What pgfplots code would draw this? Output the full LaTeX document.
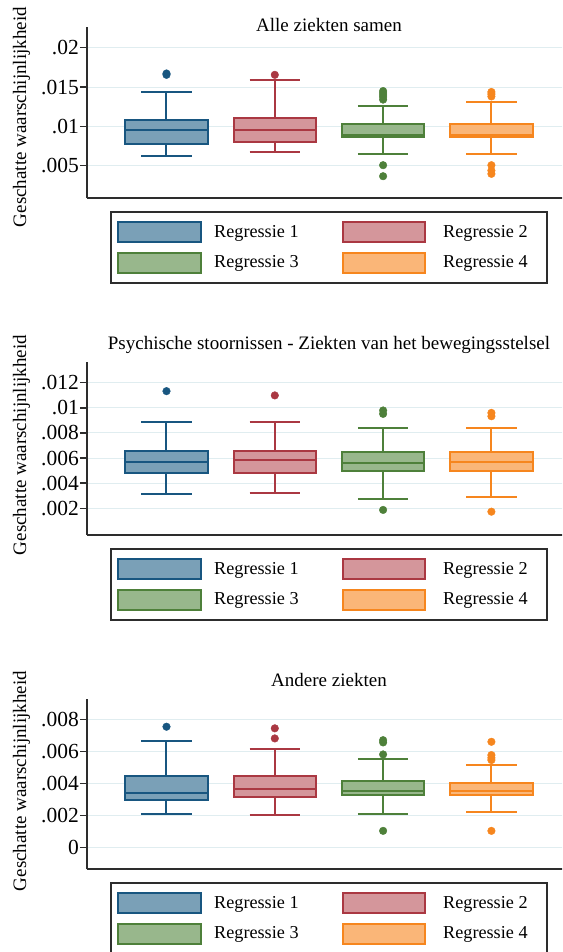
\documentclass[border=0pt]{standalone}
\usepackage{fontspec}
\setmainfont{Liberation Serif}
\usepackage{pgfplots}
\pgfplotsset{compat=1.18}
\usepgfplotslibrary{statistics}

\definecolor{c1}{RGB}{24,86,128}
\definecolor{c1f}{RGB}{122,160,183}
\definecolor{c2}{RGB}{170,56,66}
\definecolor{c2f}{RGB}{212,150,155}
\definecolor{c3}{RGB}{78,128,58}
\definecolor{c3f}{RGB}{152,183,140}
\definecolor{c4}{RGB}{246,134,30}
\definecolor{c4f}{RGB}{250,182,120}
\definecolor{gridc}{RGB}{224,237,240}
\definecolor{axc}{RGB}{45,45,45}

% all probabilities below are written in thousandths (value x 1000)
\pgfplotsset{
  panel/.style={
    scale only axis, width=483.9pt,
    xmin=0.266, xmax=4.734, xtick=\empty,
    axis x line*=bottom, axis y line*=left,
    axis line style={line width=2.2pt, draw=axc},
    ymajorgrids, grid style={line width=1pt, draw=gridc},
    major tick length=7pt, tick align=outside, ytick pos=left,
    tick style={line width=1.5pt, draw=axc},
    scaled y ticks=false,
    yticklabel style={font=\fontsize{21.5}{21.5}\selectfont, inner sep=1pt},
    boxplot/draw direction=y,
    boxplot/box extend=0.76, boxplot/whisker extend=0.465,
    anchor=south west,
  },
  bx/.style n args={3}{
    line width=2pt, draw=#1,
    mark=*, mark size=3.8pt, mark options={draw=#1, fill=#1, line width=0.4pt},
    boxplot/every box/.style={draw=#1, fill=#2, line width=2pt},
    boxplot/every median/.style={draw=#1, line width=2pt},
    boxplot/every whisker/.style={draw=#1, line width=2pt},
    boxplot/draw position=#3,
  },
}

\newcommand{\mylegend}[1]{%
  \begin{scope}[yshift=-#1pt]
    \draw[line width=1.8pt, draw=axc] (111pt,0pt) rectangle (547pt,-71pt);
    \draw[line width=2pt, draw=c1, fill=c1f] (118pt,-10pt) rectangle (201pt,-30pt);
    \draw[line width=2pt, draw=c2, fill=c2f] (343pt,-10pt) rectangle (425pt,-30pt);
    \draw[line width=2pt, draw=c3, fill=c3f] (118pt,-40.5pt) rectangle (201pt,-61pt);
    \draw[line width=2pt, draw=c4, fill=c4f] (343pt,-40.5pt) rectangle (425pt,-61pt);
    \node[anchor=base west, inner sep=0pt, font=\fontsize{18.2}{21}\selectfont] at (214pt,-25pt) {Regressie 1};
    \node[anchor=base west, inner sep=0pt, font=\fontsize{18.2}{21}\selectfont] at (443pt,-25pt) {Regressie 2};
    \node[anchor=base west, inner sep=0pt, font=\fontsize{18.2}{21}\selectfont] at (214pt,-55.5pt) {Regressie 3};
    \node[anchor=base west, inner sep=0pt, font=\fontsize{18.2}{21}\selectfont] at (443pt,-55.5pt) {Regressie 4};
  \end{scope}}

\begin{document}
\fontsize{19}{22}\selectfont
\begin{tikzpicture}
\useasboundingbox (0pt,0pt) rectangle (562pt,-952pt);
\clip (0pt,0pt) rectangle (562pt,-952pt);

% ---------- Panel 1 ----------
\begin{axis}[panel, at={(87pt,-198pt)}, height=171pt,
  ymin=0.89, ymax=22.63,
  ytick={5,10,15,20}, yticklabels={.005,.01,.015,.02}]
\addplot[bx={c1}{c1f}{1}, boxplot prepared={median=9.49, upper quartile=10.77, lower quartile=7.70, upper whisker=14.34, lower whisker=6.21}]
  table[row sep=\\, y index=0] {y\\ 16.72\\ 16.55\\};
\addplot[bx={c2}{c2f}{2}, boxplot prepared={median=9.49, upper quartile=11.02, lower quartile=8.04, upper whisker=15.87, lower whisker=6.68}]
  table[row sep=\\, y index=0] {y\\ 16.55\\};
\addplot[bx={c3}{c3f}{3}, boxplot prepared={median=8.94, upper quartile=10.26, lower quartile=8.64, upper whisker=12.55, lower whisker=6.43}]
  table[row sep=\\, y index=0] {y\\ 14.49\\ 14.24\\ 13.98\\ 13.73\\ 13.40\\ 5.06\\ 3.66\\};
\addplot[bx={c4}{c4f}{4}, boxplot prepared={median=8.94, upper quartile=10.26, lower quartile=8.64, upper whisker=13.06, lower whisker=6.43}]
  table[row sep=\\, y index=0] {y\\ 14.37\\ 14.10\\ 13.80\\ 5.06\\ 4.38\\ 3.96\\};
\end{axis}

% ---------- Panel 2 ----------
\begin{axis}[panel, at={(87pt,-535pt)}, height=173pt,
  ymin=-0.126, ymax=13.65,
  ytick={2,4,6,8,10,12}, yticklabels={.002,.004,.006,.008,.01,.012}]
\addplot[bx={c1}{c1f}{1}, boxplot prepared={median=5.65, upper quartile=6.59, lower quartile=4.80, upper whisker=8.85, lower whisker=3.12}]
  table[row sep=\\, y index=0] {y\\ 11.33\\};
\addplot[bx={c2}{c2f}{2}, boxplot prepared={median=5.87, upper quartile=6.59, lower quartile=4.80, upper whisker=8.85, lower whisker=3.25}]
  table[row sep=\\, y index=0] {y\\ 10.99\\};
\addplot[bx={c3}{c3f}{3}, boxplot prepared={median=5.60, upper quartile=6.45, lower quartile=4.99, upper whisker=8.40, lower whisker=2.75}]
  table[row sep=\\, y index=0] {y\\ 9.79\\ 9.52\\ 1.87\\};
\addplot[bx={c4}{c4f}{4}, boxplot prepared={median=5.65, upper quartile=6.45, lower quartile=4.99, upper whisker=8.40, lower whisker=2.93}]
  table[row sep=\\, y index=0] {y\\ 9.60\\ 9.33\\ 1.73\\};
\end{axis}

% ---------- Panel 3 ----------
\begin{axis}[panel, at={(87pt,-869.3pt)}, height=170.3pt,
  ymin=-1.36, ymax=9.27,
  ytick={0,2,4,6,8}, yticklabels={0,.002,.004,.006,.008}]
\addplot[bx={c1}{c1f}{1}, boxplot prepared={median=3.38, upper quartile=4.48, lower quartile=2.96, upper whisker=6.65, lower whisker=2.08}]
  table[row sep=\\, y index=0] {y\\ 7.54\\};
\addplot[bx={c2}{c2f}{2}, boxplot prepared={median=3.63, upper quartile=4.48, lower quartile=3.13, upper whisker=6.13, lower whisker=2.00}]
  table[row sep=\\, y index=0] {y\\ 7.44\\ 6.81\\};
\addplot[bx={c3}{c3f}{3}, boxplot prepared={median=3.52, upper quartile=4.15, lower quartile=3.25, upper whisker=5.52, lower whisker=2.08}]
  table[row sep=\\, y index=0] {y\\ 6.70\\ 6.56\\ 5.81\\ 1.04\\};
\addplot[bx={c4}{c4f}{4}, boxplot prepared={median=3.52, upper quartile=4.00, lower quartile=3.25, upper whisker=5.13, lower whisker=2.23}]
  table[row sep=\\, y index=0] {y\\ 6.60\\ 5.77\\ 5.60\\ 5.46\\ 1.04\\};
\end{axis}

% titles
\node[anchor=base, inner sep=0pt] at (329pt,-32pt) {Alle ziekten samen};
\node[anchor=base, inner sep=0pt] at (329pt,-349pt) {Psychische stoornissen - Ziekten van het bewegingsstelsel};
\node[anchor=base, inner sep=0pt] at (329pt,-686pt) {Andere ziekten};

% y labels
\node[anchor=base, rotate=90, inner sep=0pt] at (26pt,-117pt) {Geschatte waarschijnlijkheid};
\node[anchor=base, rotate=90, inner sep=0pt] at (26pt,-445pt) {Geschatte waarschijnlijkheid};
\node[anchor=base, rotate=90, inner sep=0pt] at (26pt,-781pt) {Geschatte waarschijnlijkheid};

% legends
\mylegend{212}
\mylegend{549}
\mylegend{883}
\end{tikzpicture}
\end{document}
